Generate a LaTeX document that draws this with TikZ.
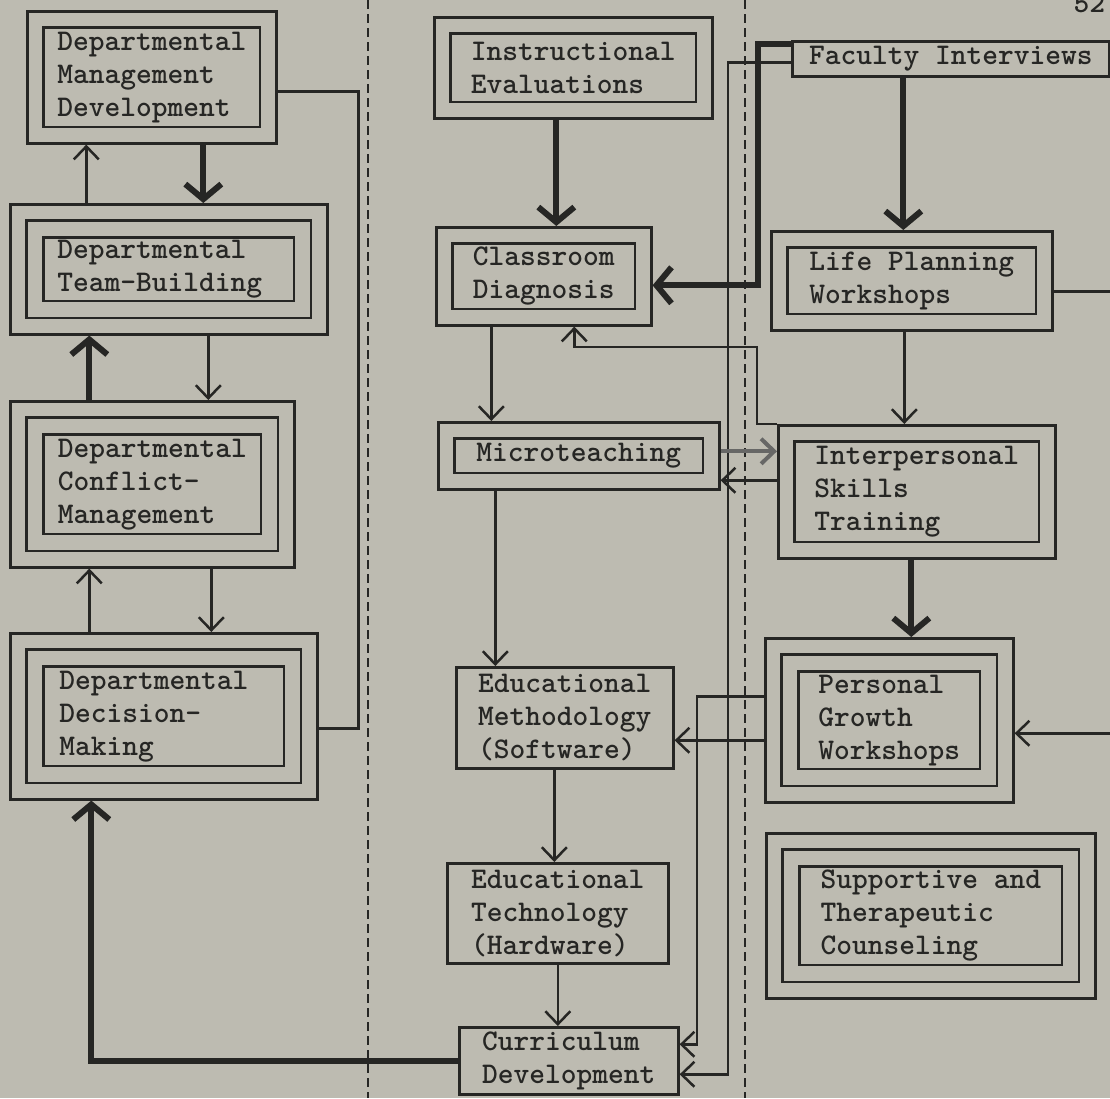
\documentclass[tikz,border=0pt]{standalone}
\usepackage{fontspec}
\usetikzlibrary{arrows.meta}
\definecolor{paper}{RGB}{189,187,177}
\definecolor{ink}{RGB}{38,38,36}

\begin{document}
\begin{tikzpicture}[x=1pt, y=-1pt,
    >={Straight Barb[length=13pt,width=25pt]},
    box/.style={draw=ink, line width=2.6pt, anchor=north west, align=left, inner sep=0pt,
      text=ink, font=\ttfamily\bfseries\fontsize{30}{33}\selectfont},
    link/.style={draw=ink, line width=2.5pt},
    heavy/.style={draw=ink, line width=6pt, -{Straight Barb[length=15pt,width=36pt]}}]
	\useasboundingbox (0,0) rectangle (1110,1098);
	\begin{scope}
		\clip (0,0) rectangle (1110,1098);
		\fill[paper] (0,0) rectangle (1110,1098);

		\draw[ink, line width=2pt, dash pattern=on 9pt off 5pt] (368,0) -- (368,1098);
		\draw[ink, line width=2pt, dash pattern=on 9pt off 5pt] (745,0) -- (745,1098);

		\node[anchor=base west, text=ink, font=\ttfamily\bfseries\fontsize{30}{33}\selectfont] (pnum) at (1070,12) {52};

		% left column
		\node[box, minimum width=249, minimum height=132] (dmd) at (26,10) {Departmental\\Management\\Development};
		\node[box, minimum width=317, minimum height=130, text width=223] (team) at (9,203) {Departmental\\Team-Building};
		\node[box, minimum width=284, minimum height=166] (conf) at (9,400) {Departmental\\Conflict-\\Management};
		\node[box, minimum width=307, minimum height=166, text width=209] (deci) at (9,632) {Departmental\\Decision-\\Making};

		% middle column
		\node[box, minimum width=278, minimum height=101] (ie) at (433,16) {Instructional\\Evaluations};
		\node[box, minimum width=215, minimum height=98] (cd) at (435,226) {Classroom\\Diagnosis};
		\node[box, minimum width=281, minimum height=67] (mt) at (437,421) {Microteaching};
		\node[box, minimum width=217, minimum height=101] (em) at (455,666) {Educational\\Methodology\\(Software)};
		\node[box, minimum width=221, minimum height=100] (et) at (446,862) {Educational\\Technology\\(Hardware)};
		\node[box, minimum width=219, minimum height=67] (cur) at (458,1026) {Curriculum\\Development};

		% right column
		\node[box, minimum width=317, minimum height=35] (fi) at (791,40) {Faculty Interviews};
		\node[box, minimum width=281, minimum height=99] (lp) at (770,230) {Life Planning\\Workshops};
		\node[box, minimum width=277, minimum height=133] (ist) at (777,424) {Interpersonal\\Skills\\Training};
		\node[box, minimum width=248, minimum height=164] (pg) at (764,637) {Personal\\Growth\\Workshops};
		\node[box, minimum width=329, minimum height=165] (stc) at (765,832) {Supportive and\\Therapeutic\\Counseling};

		\foreach \n in {dmd,ie,cd,mt,lp,ist}
			\draw[link] ([shift={(17.5,17.5)}]\n.north west) rectangle ([shift={(-17.5,-17.5)}]\n.south east);
		\foreach \n in {team,conf,deci,pg,stc} {
			\draw[link] ([shift={(17.5,17.5)}]\n.north west) rectangle ([shift={(-17.5,-17.5)}]\n.south east);
			\draw[link] ([shift={(34.5,34.5)}]\n.north west) rectangle ([shift={(-34.5,-34.5)}]\n.south east);
		}

		\draw[heavy] ([xshift=51.5]dmd.south) -- ([xshift=51.5]dmd.south |- team.north);
		\draw[link, ->] ([xshift=-82.5]team.north) -- ([xshift=-82.5]team.north |- dmd.south);
		\draw[heavy] ([xshift=-63]conf.north) -- ([xshift=-63]conf.north |- team.south);
		\draw[link, ->] ([xshift=39.5]team.south) -- ([xshift=39.5]team.south |- conf.north);
		\draw[link, ->] ([xshift=-74.5]deci.north) -- ([xshift=-74.5]deci.north |- conf.south);
		\draw[link, ->] ([xshift=59]conf.south) -- ([xshift=59]conf.south |- deci.north);
		\draw[link] ([yshift=-14]dmd.east) -- ++(81,0) |- ([yshift=-12]deci.east);
		\draw[heavy] (cur.west) -| ([xshift=-72.5]deci.south);

		\draw[heavy] ([xshift=-17]ie.south) -- ([xshift=-17]ie.south |- cd.north);
		\draw[link, ->] ([xshift=-52.5]cd.south) -- ([xshift=-52.5]cd.south |- mt.north);
		\draw[link, ->] ([xshift=-83.5]mt.south) -- ([xshift=-83.5]mt.south |- em.north);
		\draw[link, ->] ([xshift=-10.5]em.south) -- ([xshift=-10.5]em.south |- et.north);
		\draw[link, ->] (et.south) -- (et.south |- cur.north);

		\draw[heavy] ([xshift=-47.5]fi.south) -- ([xshift=-47.5]fi.south |- lp.north);
		\draw[link, ->] ([xshift=-7.5]lp.south) -- ([xshift=-7.5]lp.south |- ist.north);
		\draw[heavy] ([xshift=-5.5]ist.south) -- ([xshift=-5.5]ist.south |- pg.north);
		\draw[link, ->] ([yshift=-10.5]lp.east) -- ++(80,0) |- ([yshift=-13]pg.east);

		\draw[heavy] ([yshift=14.5]fi.west) -- ++(-33,0) |- ([yshift=-9]cd.east);
		\draw[link, ->] ([yshift=-3.5]fi.west) -- ++(-63,0) |- ([yshift=-13.5]cur.east);
		\draw[link, ->] ([yshift=24]pg.west) -- ++(-67,0) |- ([yshift=16.5]cur.east);
		\draw[link, ->] ([yshift=-20]pg.west) -- ([yshift=-20]pg.west -| em.east);
		\draw[link, draw=ink!70, line width=4pt, ->] ([yshift=4.5]mt.east) -- ([yshift=4.5]mt.east -| ist.west);
		\draw[link, <-] ([yshift=-24.5]mt.east) -- ([yshift=-24.5]mt.east -| ist.west);
		\draw[link, ->] (ist.north west) -- ++(-20,0) -- ++(0,-77) -| ([xshift=30.5]cd.south);
	\end{scope}
\end{tikzpicture}
\end{document}
